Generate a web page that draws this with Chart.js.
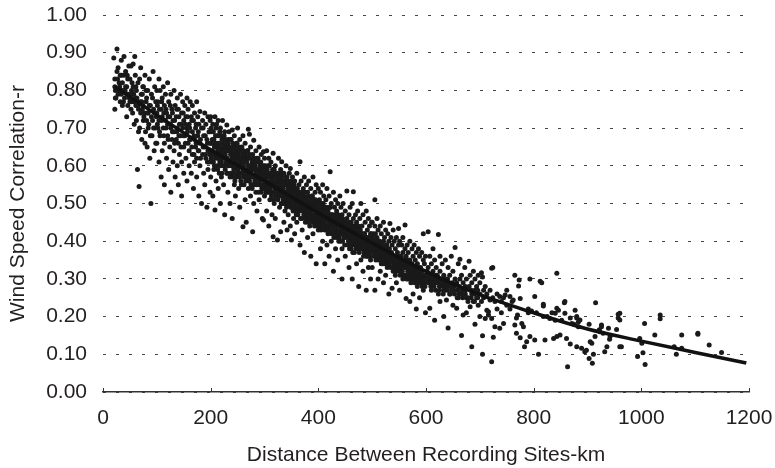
<!DOCTYPE html>
<html>
<head>
<meta charset="utf-8">
<script src="https://cdn.jsdelivr.net/npm/chart.js@4.4.1/dist/chart.umd.min.js"></script>
<style>
  html, body { margin: 0; padding: 0; background: #fff; }
  #wrap { width: 775px; height: 468px; position: relative; }
</style>
</head>
<body>
<div id="wrap"><canvas id="c"></canvas></div>
<script>
// ---- Data (rows: [distance km, r, r, ...]) ----
const sites0to100 = [
  [20,0.886],[22,0.81,0.83,0.75],[23,0.80,0.78],[24,0.78],[26,0.91,0.85],[27,0.83],[28,0.86,0.79],[30,0.80,0.82],
  [31,0.81],[32,0.84,0.77],[34,0.79,0.88],[35,0.80,0.84],[36,0.82,0.76],[38,0.77],[39,0.89,0.80],[40,0.78,0.84],
  [41,0.80],[42,0.85,0.81],[44,0.81,0.73],[45,0.79,0.84],[46,0.76,0.83],[48,0.865,0.79],[49,0.78],[50,0.83,0.77],
  [52,0.865,0.75],[53,0.80,0.77],[54,0.79,0.82],[55,0.74],[56,0.81,0.87],[57,0.79],[58,0.77,0.71],
  [59,0.89],[60,0.84,0.78],[61,0.76,0.81],[62,0.72,0.80],[63,0.78],[64,0.59],[65,0.82,0.76],[66,0.75,0.69],[67,0.545],
  [68,0.70,0.83],[69,0.77],[70,0.86,0.74],[71,0.79],[72,0.67,0.77],[73,0.79,0.75],[74,0.76,0.81],[75,0.81,0.72],[76,0.73],
  [77,0.74],[78,0.84,0.66],[79,0.69],[80,0.77,0.80],[81,0.78,0.72],[82,0.65,0.74],[83,0.80],[84,0.74,0.70],[85,0.71],
  [86,0.83,0.76],[87,0.62],[88,0.76,0.68],[89,0.50],[90,0.79,0.73],[91,0.68],[92,0.72,0.78],[93,0.85],[94,0.75,0.70],
  [95,0.64],[96,0.81,0.74],[97,0.70],[98,0.77,0.66],[99,0.73]
];
const sites100to200 = [
  [100,0.80,0.74,0.66],[101,0.76,0.71],[102,0.77,0.70],[104,0.83,0.72,0.61],[105,0.75,0.69],[106,0.80,0.68],
  [108,0.75,0.57],[109,0.72,0.77],[110,0.78,0.73,0.64],[112,0.81,0.70],[113,0.74,0.68],[114,0.76,0.66,0.55],
  [116,0.79,0.72],[117,0.70,0.75],[118,0.74,0.62],[120,0.82,0.71,0.68],[121,0.73,0.67],[122,0.77,0.59],
  [124,0.73,0.65],[125,0.76,0.71],[126,0.79,0.70,0.53],[128,0.75,0.67],[129,0.69,0.74],[130,0.72,0.61],
  [132,0.80,0.69,0.64],[133,0.72,0.66],[134,0.76,0.57],[136,0.73,0.67],[137,0.75,0.69],[138,0.78,0.70,0.60],
  [140,0.75,0.66,0.55],[141,0.68,0.73],[142,0.71,0.63],[144,0.79,0.68],[145,0.71,0.65],[146,0.74,0.61,0.52],
  [148,0.77,0.70],[149,0.74,0.68],[150,0.72,0.65,0.58],[152,0.76,0.68],[153,0.66,0.71],[154,0.73,0.62],
  [156,0.78,0.70,0.56],[157,0.69,0.73],[158,0.75,0.66],[160,0.71,0.64,0.60],[161,0.67,0.70],[162,0.77,0.67],
  [164,0.73,0.58],[165,0.72,0.65],[166,0.76,0.69,0.63],[168,0.72,0.54],[169,0.68,0.63],[170,0.74,0.67,0.61],
  [172,0.70,0.65],[173,0.71,0.66],[174,0.77,0.62,0.57],[176,0.73,0.68],[177,0.64,0.69],[178,0.71,0.64,0.52],
  [180,0.744,0.66,0.60],[181,0.67,0.62],[183,0.70,0.50],[185,0.72,0.63],[186,0.70,0.65],[187,0.68,0.58],
  [189,0.74,0.65,0.55],[190,0.63,0.68],[191,0.71,0.62],[193,0.67,0.49],[194,0.66,0.61],[195,0.73,0.64,0.59],
  [197,0.69,0.61],[198,0.69,0.63],[199,0.72,0.66,0.53]
];
const sites200to300 = [
  [200,0.73,0.64,0.57],[201,0.66,0.62,0.70],[202,0.69,0.61],[203,0.64,0.67],[204,0.71,0.66,0.52],
  [205,0.61,0.69,0.63],[206,0.67,0.59],[207,0.65,0.60],[208,0.73,0.63,0.483],[209,0.68,0.62,0.66],
  [210,0.70,0.65,0.56],[211,0.63,0.71],[212,0.68,0.60],[213,0.66,0.59,0.64],[214,0.72,0.62,0.54],
  [215,0.62,0.68],[216,0.66,0.58],[217,0.65,0.61,0.69],[218,0.70,0.64,0.50],[219,0.60,0.63],
  [220,0.68,0.61,0.57],[221,0.67,0.64,0.58],[222,0.72,0.63],[223,0.62,0.66],[224,0.65,0.55],
  [225,0.64,0.60,0.68],[226,0.69,0.60,0.47],[227,0.59,0.63],[228,0.67,0.62],[229,0.66,0.61,0.65],
  [230,0.708,0.64,0.58],[231,0.62,0.58],[232,0.66,0.53],[233,0.64,0.67,0.60],[234,0.69,0.61],
  [235,0.61,0.65],[236,0.64,0.57,0.50],[237,0.63,0.58,0.67],[238,0.67,0.60],[239,0.60,0.64],
  [240,0.695,0.62,0.46],[241,0.62,0.66,0.57],[242,0.65,0.58],[243,0.59,0.63],[244,0.68,0.55],
  [245,0.65,0.61,0.56],[246,0.63,0.60,0.52],[247,0.60,0.64],[248,0.66,0.57],[249,0.62,0.58,0.66],
  [250,0.70,0.62,0.59],[251,0.59,0.63],[252,0.64,0.54],[253,0.61,0.57,0.65],[254,0.67,0.58,0.49],
  [255,0.64,0.60],[256,0.62,0.56],[257,0.58,0.62,0.55],[258,0.65,0.60],[259,0.61,0.63],
  [260,0.68,0.59,0.438],[261,0.57,0.60,0.64],[262,0.63,0.55],[263,0.62,0.58],[264,0.66,0.57,0.51],
  [265,0.59,0.63,0.56],[266,0.61,0.45],[267,0.61,0.57],[268,0.64,0.58],[269,0.58,0.62,0.64],
  [270,0.697,0.60,0.54],[271,0.56,0.59],[272,0.684,0.62,0.56],[273,0.60,0.57,0.63],[274,0.65,0.52],
  [275,0.58,0.55],[276,0.60,0.57],[277,0.61,0.59,0.54],[278,0.63,0.55,0.425],[279,0.57,0.62],
  [280,0.668,0.59,0.50],[281,0.59,0.55,0.61],[282,0.61,0.56],[283,0.57,0.60],[284,0.64,0.53],
  [285,0.55,0.62,0.58],[286,0.58,0.48],[287,0.59,0.56],[288,0.62,0.57],[289,0.61,0.57,0.53],
  [290,0.65,0.55,0.51],[291,0.56,0.59],[292,0.60,0.58],[293,0.58,0.55,0.61],[294,0.63,0.53],
  [295,0.60,0.54],[296,0.57,0.46],[297,0.57,0.59,0.55],[298,0.637,0.60,0.456],[299,0.54,0.58]
];
const sites300to400 = [
  [300,0.62,0.56,0.52],[301,0.58,0.55,0.60],[302,0.59,0.54],[303,0.56,0.53],[304,0.64,0.57,0.48],
  [305,0.59,0.54,0.57],[306,0.60,0.53],[307,0.55,0.58],[308,0.62,0.55,0.44],[309,0.57,0.53,0.60],
  [310,0.58,0.51],[311,0.54,0.56],[312,0.61,0.56],[313,0.58,0.52,0.55],[314,0.57,0.53,0.47],
  [315,0.56,0.59],[316,0.633,0.55,0.412],[317,0.53,0.57,0.51],[318,0.59,0.50],[319,0.55,0.58],
  [320,0.60,0.54,0.46],[321,0.57,0.52,0.55],[322,0.56,0.52],[323,0.54,0.58],[324,0.58,0.55,0.403],
  [325,0.56,0.51,0.53],[326,0.62,0.53],[327,0.55,0.58],[328,0.57,0.49],[329,0.52,0.56,0.54],
  [330,0.59,0.54,0.425],[331,0.57,0.50],[332,0.611,0.52],[333,0.53,0.55,0.58],[334,0.56,0.50],
  [335,0.51,0.54],[336,0.58,0.53,0.45],[337,0.56,0.52,0.50],[338,0.55,0.48],[339,0.53,0.57],
  [340,0.60,0.52],[341,0.55,0.51,0.49],[342,0.57,0.50,0.43],[343,0.52,0.56],[344,0.54,0.47],
  [345,0.54,0.50,0.53],[346,0.58,0.51],[347,0.51,0.55],[348,0.593,0.53,0.44],[349,0.53,0.49,0.56],
  [350,0.55,0.49,0.403],[351,0.50,0.52],[352,0.57,0.51],[353,0.54,0.48,0.51],[354,0.53,0.46],
  [355,0.52,0.55],[356,0.56,0.50,0.42],[357,0.49,0.53,0.51],[358,0.54,0.48],[359,0.52,0.47],
  [360,0.58,0.51,0.45],[361,0.50,0.54,0.48],[362,0.52,0.47],[363,0.51,0.53],[364,0.55,0.49],
  [365,0.48,0.52,0.50],[366,0.611,0.53,0.39],[367,0.51,0.46],[368,0.56,0.50],[369,0.49,0.53,0.50],
  [370,0.52,0.46,0.43],[371,0.51,0.48],[372,0.54,0.48],[373,0.47,0.52,0.49],[374,0.57,0.50,0.37],
  [375,0.50,0.53],[376,0.51,0.45],[377,0.48,0.46,0.51],[378,0.55,0.49],[379,0.50,0.47],
  [380,0.53,0.47,0.41],[381,0.48,0.52,0.45],[382,0.56,0.50],[383,0.49,0.47],[384,0.50,0.44],
  [385,0.51,0.46,0.49],[386,0.54,0.48,0.36],[387,0.47,0.50],[388,0.52,0.46],[389,0.49,0.45,0.52],
  [390,0.57,0.49,0.42],[391,0.47,0.50],[392,0.51,0.45],[393,0.49,0.46,0.44],[394,0.53,0.47],
  [395,0.48,0.51],[396,0.55,0.49,0.34],[397,0.46,0.49,0.47],[398,0.50,0.44],[399,0.48,0.45]
];
const sites400to500 = [
  [400,0.54,0.48,0.43],[401,0.47,0.50,0.45],[402,0.51,0.46],[403,0.48,0.46],[404,0.53,0.44,0.38],
  [405,0.46,0.49,0.43],[406,0.50,0.47],[407,0.48,0.45],[408,0.55,0.45,0.40],[409,0.47,0.44,0.50],
  [410,0.52,0.48],[411,0.45,0.48],[412,0.49,0.43,0.34],[413,0.47,0.44,0.46],[414,0.51,0.46],
  [415,0.49,0.43],[416,0.54,0.44,0.39],[417,0.46,0.44,0.48],[418,0.48,0.42],[419,0.45,0.47],
  [420,0.52,0.46,0.36],[421,0.43,0.46,0.49],[422,0.584,0.49],[423,0.47,0.44],[424,0.50,0.44,0.40],
  [425,0.45,0.42,0.47],[426,0.47,0.42],[427,0.44,0.46],[428,0.53,0.45,0.32],[429,0.46,0.43,0.41],
  [430,0.49,0.43],[431,0.45,0.47],[432,0.51,0.46,0.38],[433,0.43,0.45,0.42],[434,0.48,0.41],
  [435,0.46,0.44],[436,0.50,0.44,0.35],[437,0.42,0.45,0.47],[438,0.46,0.40],[439,0.44,0.41],
  [440,0.52,0.45,0.42],[441,0.43,0.46,0.40],[442,0.49,0.43],[443,0.45,0.42],[444,0.47,0.38,0.30],
  [445,0.43,0.40,0.46],[446,0.50,0.44],[447,0.42,0.44],[448,0.45,0.41],[449,0.45,0.41,0.39],
  [450,0.48,0.43,0.36],[451,0.43,0.45],[453,0.533,0.46],[454,0.41,0.44,0.42],[455,0.44,0.39],
  [456,0.43,0.40],[457,0.47,0.42,0.33],[458,0.45,0.42,0.38],[459,0.49,0.41],[460,0.40,0.43],
  [461,0.45,0.38],[462,0.42,0.44,0.39],[463,0.50,0.43,0.30],[464,0.41,0.37],[465,0.531,0.46,0.40],
  [466,0.43,0.40,0.42],[467,0.44,0.37],[468,0.39,0.44],[469,0.47,0.42],[470,0.41,0.43,0.38],
  [471,0.45,0.39,0.34],[472,0.40,0.42],[473,0.48,0.41],[474,0.39,0.41,0.44],[475,0.43,0.38,0.28],
  [476,0.42,0.37],[477,0.46,0.40],[478,0.40,0.38,0.43],[479,0.50,0.42,0.35],[480,0.41,0.39],
  [481,0.44,0.39],[482,0.38,0.42,0.40],[483,0.47,0.41,0.32],[484,0.39,0.36],[485,0.42,0.37],
  [486,0.41,0.38,0.42],[487,0.45,0.40],[488,0.37,0.40],[489,0.48,0.39,0.27],[490,0.39,0.41,0.36],
  [491,0.43,0.36],[492,0.38,0.40],[493,0.46,0.41,0.33],[494,0.40,0.37,0.39],[495,0.44,0.38],
  [496,0.36,0.41],[497,0.42,0.35,0.30],[498,0.39,0.38,0.42],[499,0.45,0.40]
];
const sites500to600 = [
  [500,0.45,0.40,0.33],[501,0.38,0.41],[502,0.42,0.37],[503,0.40,0.36],[504,0.37,0.39],[505,0.51,0.44,0.27],
  [506,0.38,0.42],[507,0.39,0.35],[508,0.36,0.40],[509,0.46,0.41],[510,0.39,0.37],[511,0.43,0.38,0.30],
  [512,0.35,0.38],[513,0.40,0.36],[514,0.37,0.40],[515,0.44,0.39,0.32],[516,0.38,0.36],[517,0.42,0.34],
  [518,0.35,0.39],[519,0.38,0.36],[520,0.37,0.34],[521,0.45,0.40,0.29],[522,0.38,0.36],[523,0.41,0.37],
  [524,0.34,0.37],[525,0.43,0.35,0.31],[526,0.36,0.39],[527,0.39,0.36],[528,0.35,0.33],[529,0.42,0.38],
  [530,0.37,0.35],[531,0.40,0.34,0.26],[532,0.34,0.38],[533,0.447,0.37],[534,0.36,0.33],[535,0.41,0.35],
  [536,0.35,0.37],[537,0.39,0.275],[538,0.33,0.35],[539,0.43,0.36,0.32],[540,0.36,0.34],[541,0.40,0.34],
  [542,0.35,0.32],[543,0.38,0.31],[544,0.33,0.36],[545,0.41,0.36,0.29],[546,0.35,0.34],[547,0.37,0.33],
  [548,0.32,0.36],[549,0.434,0.39],[550,0.34,0.33],[551,0.40,0.35,0.27],[552,0.35,0.31],[553,0.36,0.32],
  [554,0.33,0.36],[555,0.39,0.34],[556,0.32,0.34],[557,0.41,0.37,0.30],[558,0.34,0.31],[559,0.35,0.31],
  [560,0.33,0.35],[561,0.443,0.38],[562,0.31,0.34],[563,0.36,0.33,0.248],[564,0.33,0.30],[565,0.39,0.34],
  [566,0.32,0.35],[567,0.37,0.30],[568,0.34,0.31],[570,0.40,0.35,0.24],[571,0.32,0.30],[572,0.33,0.29],
  [573,0.31,0.33],[574,0.38,0.34],[575,0.33,0.30],[576,0.36,0.31,0.26],[577,0.30,0.32],[578,0.39,0.33],
  [579,0.32,0.29],[580,0.35,0.30],[581,0.31,0.33],[582,0.37,0.32,0.22],[583,0.30,0.32],[584,0.34,0.28],
  [585,0.32,0.29],[586,0.38,0.33],[587,0.30,0.31],[588,0.36,0.31,0.25],[589,0.29,0.32],[590,0.33,0.29],
  [591,0.31,0.30],[592,0.37,0.32],[593,0.30,0.28],[595,0.42,0.35,0.27],[596,0.29,0.31],[597,0.34,0.30],
  [598,0.31,0.28],[599,0.36,0.31,0.21]
];
const sites600to800 = [
  [602,0.30,0.32],[604,0.425,0.33,0.29],[606,0.31,0.29],[607,0.36,0.222],[609,0.30,0.28],[610,0.34,0.30,0.27],
  [612,0.29,0.31],[613,0.38,0.32],[615,0.28,0.30],[616,0.35,0.29,0.19],[618,0.30,0.27],[619,0.33,0.31],
  [621,0.29,0.31],[623,0.418,0.30,0.26],[625,0.28,0.27],[626,0.36,0.24,0.32],[628,0.30,0.29],[630,0.34,0.29],
  [632,0.28,0.26],[633,0.31,0.27,0.20],[635,0.29,0.27],[636,0.35,0.30],[638,0.244,0.28],[640,0.27,0.30],
  [641,0.33,0.29,0.17],[644,0.31,0.26],[645,0.28,0.26],[647,0.36,0.28],[649,0.27,0.29],
  [650,0.32,0.27,0.23],[653,0.26,0.28],[654,0.383,0.30],[657,0.222,0.29],[658,0.27,0.25],[660,0.34,0.27,0.25],
  [662,0.28,0.26],[663,0.352,0.30],[666,0.31,0.26,0.15],[668,0.25,0.27],[669,0.204,0.29],[672,0.33,0.27],
  [673,0.26,0.28],[675,0.30,0.25,0.21],[678,0.25,0.24],[680,0.347,0.28],[682,0.226,0.31],[684,0.27,0.25],
  [685,0.29,0.26,0.12],[688,0.32,0.24],[690,0.24,0.26],[691,0.27,0.30,0.18],[694,0.28,0.25],[696,0.25,0.27],
  [697,0.31,0.23],[700,0.26,0.29,0.20],[703,0.316,0.24],[705,0.305,0.149,0.10],[707,0.27,0.25],
  [710,0.195,0.28],[713,0.217,0.26],[716,0.204,0.213],[719,0.244,0.27],[722,0.328,0.195,0.08],
  [724,0.33,0.25],[725,0.145],[728,0.173,0.24],[732,0.26,0.22],[737,0.253,0.169],[740,0.24,0.21],
  [744,0.182,0.25],[747,0.257],[750,0.27,0.23],[756,0.253,0.22],[760,0.24],[762,0.244],
  [765,0.31,0.178],[768,0.156,0.196],[770,0.204],[772,0.281],[773,0.297],[775,0.248,0.144],
  [778,0.182],[781,0.173],[783,0.12],[787,0.133],[790,0.22,0.21],[793,0.30,0.147],[796,0.215]
];
const sites800to1200 = [
  [802,0.253,0.138],[805,0.21],[809,0.10],[812,0.294],[815,0.29],[818,0.233,0.228,0.20],[821,0.138],
  [825,0.20],[830,0.195],[834,0.21],[837,0.142],[840,0.209,0.19],[843,0.315,0.222,0.147],[846,0.217],
  [849,0.151],[852,0.19],[857,0.237],[858,0.209,0.24],[861,0.142],[863,0.067],[868,0.196,0.127],
  [871,0.182],[875,0.18],[877,0.217],[880,0.2,0.196,0.12],[883,0.186,0.173],[886,0.191],[889,0.116],
  [895,0.107],[898,0.111],[903,0.18,0.089],[905,0.133],[908,0.129],[909,0.076],[911,0.10],[914,0.147],
  [915,0.237],[922,0.165],[923,0.16],[926,0.178,0.173],[929,0.156],[932,0.107],[936,0.12],[939,0.169],
  [941,0.14],[942,0.147],[954,0.166],[957,0.206,0.196],[960,0.209,0.191,0.12],[963,0.12],[993,0.094],
  [997,0.142],[1001,0.129],[1003,0.104],[1006,0.182],[1007,0.073],[1025,0.151],[1035,0.204,0.194],
  [1061,0.12],[1065,0.10],[1075,0.116,0.151],[1105,0.156,0.153],[1126,0.125],[1149,0.105]
];
// fitted trend line
const trendKm = [22, 100, 180, 300, 400, 500, 600, 700, 800, 900, 1000, 1100, 1195];
const trendR  = [0.81, 0.735, 0.66, 0.56, 0.475, 0.395, 0.32, 0.258, 0.21, 0.167, 0.135, 0.105, 0.077];
const xTicks = [0, 200, 400, 600, 800, 1000, 1200];
const yTicks = [0, 0.1, 0.2, 0.3, 0.4, 0.5, 0.6, 0.7, 0.8, 0.9, 1.0];

const allBands = [sites0to100, sites100to200, sites200to300, sites300to400,
                  sites400to500, sites500to600, sites600to800, sites800to1200];
const scatterPts = [];
allBands.forEach(band => band.forEach(row => {
  for (let i = 1; i < row.length; i++) scatterPts.push({ x: row[0], y: row[i] });
}));
const trendPts = trendKm.map((x, i) => ({ x, y: trendR[i] }));

const FONT = "'Liberation Sans', Arial, Helvetica, sans-serif";
const TXT = '#231f20';

const innerTicks = {
  id: 'innerTicks',
  afterDraw(chart) {
    const xs = chart.scales.x, ctx = chart.ctx, b = chart.chartArea.bottom;
    ctx.save();
    ctx.strokeStyle = '#333';
    ctx.lineWidth = 1;
    xTicks.forEach(v => {
      const px = Math.round(xs.getPixelForValue(v)) + 0.5;
      ctx.beginPath(); ctx.moveTo(px, b); ctx.lineTo(px, b - 4); ctx.stroke();
    });
    ctx.restore();
  }
};

new Chart(document.getElementById('c'), {
  type: 'scatter',
  data: {
    datasets: [
      { type: 'line', data: trendPts, borderColor: '#111', borderWidth: 3.5,
        pointRadius: 0, tension: 0.4, cubicInterpolationMode: 'monotone', fill: false, order: 0 },
      { data: scatterPts, backgroundColor: '#1a1a1a', borderWidth: 0,
        pointRadius: 2.5, pointHoverRadius: 2.5, order: 1 }
    ]
  },
  options: {
    responsive: true, maintainAspectRatio: false, animation: false,
    layout: { padding: { top: 15, right: 26, left: 0, bottom: 0 } },
    plugins: { legend: { display: false }, tooltip: { enabled: false } },
    scales: {
      x: {
        type: 'linear', min: 0, max: 1200,
        afterBuildTicks: s => { s.ticks = xTicks.map(v => ({ value: v })); },
        afterFit: s => { s.height = 76; s.paddingLeft = 0; s.paddingRight = 0; },
        grid: { display: false, drawTicks: false },
        border: { display: true, color: '#333', width: 1.5 },
        ticks: { padding: 14, color: TXT, font: { family: FONT, size: 21 },
                 callback: v => String(v) },
        title: { display: true, text: 'Distance Between Recording Sites-km', color: TXT,
                 font: { family: FONT, size: 21 }, padding: { top: 0, bottom: 0 } }
      },
      y: {
        type: 'linear', min: 0, max: 1,
        afterBuildTicks: s => { s.ticks = yTicks.map(v => ({ value: v })); },
        afterFit: s => { s.width = 103; s.paddingTop = 0; s.paddingBottom = 0; },
        grid: { color: '#444', lineWidth: 1, drawTicks: false },
        border: { display: false, dash: [3, 10] },
        ticks: { padding: 16, color: TXT, font: { family: FONT, size: 21 },
                 callback: v => Number(v).toFixed(2) },
        title: { display: true, text: 'Wind Speed Correlation-r', color: TXT,
                 font: { family: FONT, size: 21 }, padding: { top: 6, bottom: 0 } }
      }
    }
  },
  plugins: [innerTicks]
});
</script>
</body>
</html>
